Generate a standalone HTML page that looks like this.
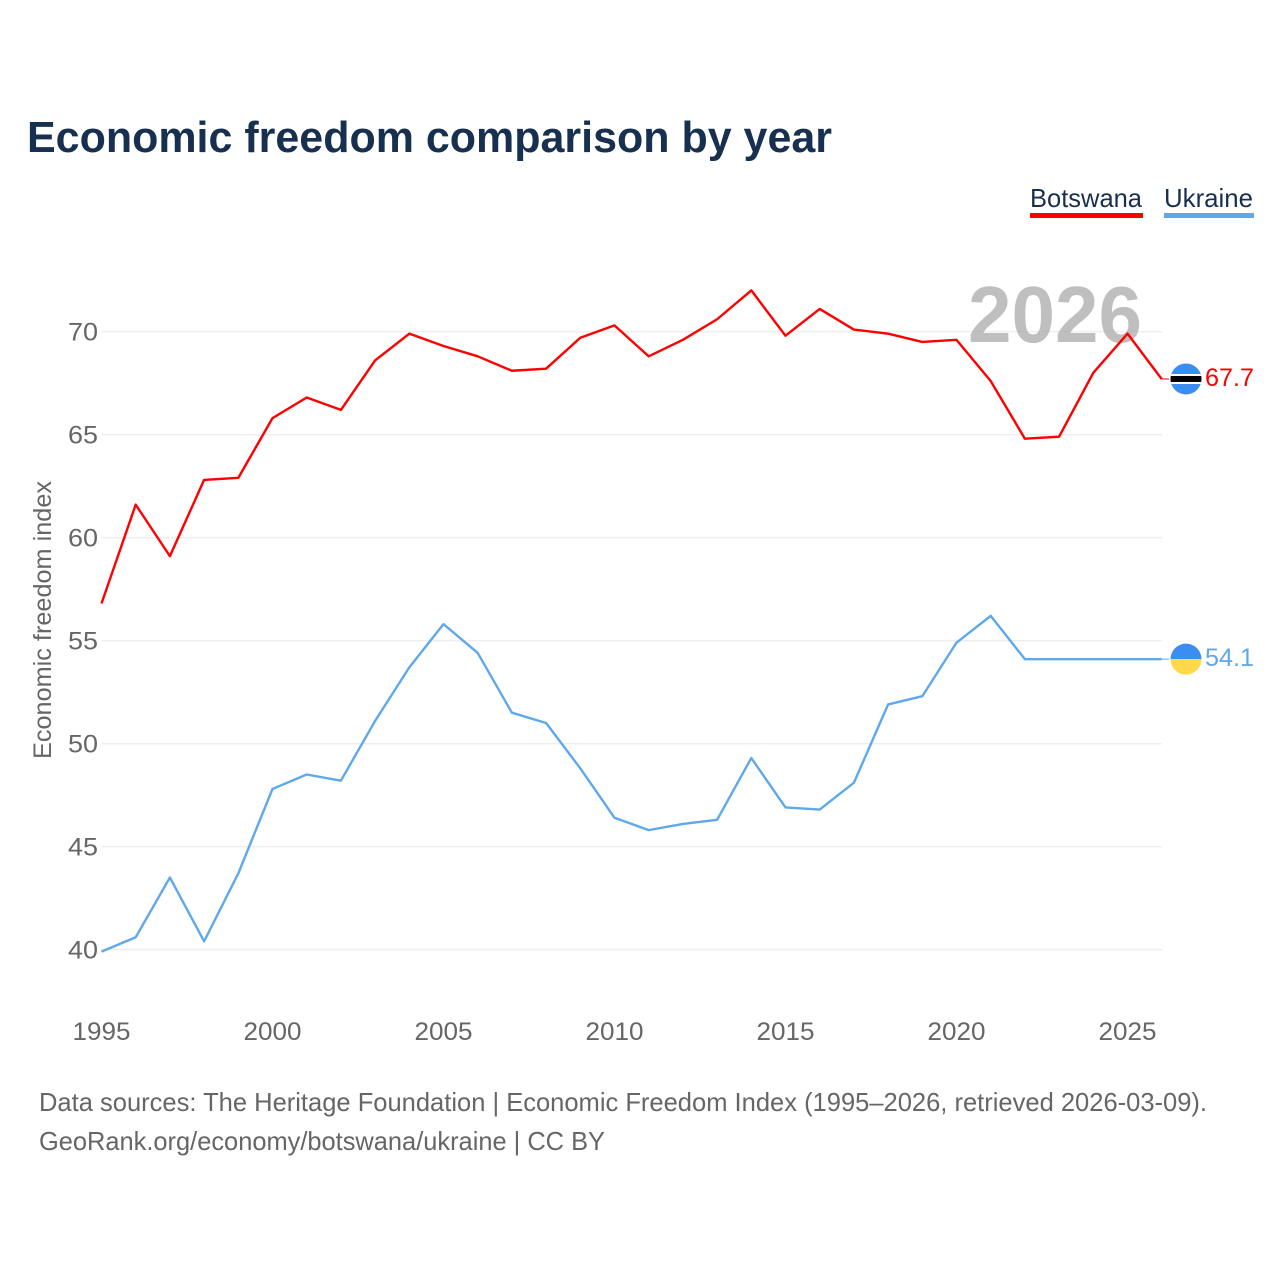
<!DOCTYPE html>
<html lang="en">
<head>
<meta charset="utf-8">
<title>Economic freedom comparison by year</title>
<style>
html,body{margin:0;padding:0;background:#fff;}
svg{display:block;}
text{font-family:"Liberation Sans",sans-serif;}
</style>
</head>
<body>
<svg id="chart" width="1280" height="1280" viewBox="0 0 1280 1280" xmlns="http://www.w3.org/2000/svg">
  <rect width="1280" height="1280" fill="#fff"/>
  <text x="27" y="152" font-size="44" font-weight="700" fill="#18304f" textLength="805" lengthAdjust="spacingAndGlyphs">Economic freedom comparison by year</text>
  <g>
    <text x="1030" y="207" font-size="26" fill="#18304f" textLength="112" lengthAdjust="spacingAndGlyphs">Botswana</text>
    <rect x="1030" y="213" width="113" height="5" fill="#ff0000"/>
  </g>
  <g>
    <text x="1164" y="207" font-size="26" fill="#18304f" textLength="89" lengthAdjust="spacingAndGlyphs">Ukraine</text>
    <rect x="1164" y="213" width="90" height="5" fill="#5fa8ec"/>
  </g>
  <g id="grid"></g>
  <g id="yticks"></g>
  <g id="xticks"></g>
  <text x="968" y="342" font-size="80" font-weight="700" fill="#a9a9a9" fill-opacity="0.75" textLength="174" lengthAdjust="spacingAndGlyphs">2026</text>
  <text transform="translate(51,759) rotate(-90)" font-size="25" fill="#666" textLength="278" lengthAdjust="spacingAndGlyphs">Economic freedom index</text>
  <g id="series"></g>
  <line id="connector-botswana" stroke="#ff0000" stroke-width="1"/>
  <line id="connector-ukraine" stroke="#5fa8ec" stroke-width="1"/>
  <defs>
    <clipPath id="clip-bw"><circle id="clip-bw-circle" cx="1186" r="15.5"/></clipPath>
    <clipPath id="clip-ua"><circle id="clip-ua-circle" cx="1186" r="15.5"/></clipPath>
  </defs>
  <g id="flag-botswana" clip-path="url(#clip-bw)"></g>
  <g id="flag-ukraine" clip-path="url(#clip-ua)"></g>
  <text id="end-botswana" x="1205" font-size="25" fill="#ff0000" textLength="49" lengthAdjust="spacingAndGlyphs"></text>
  <text id="end-ukraine" x="1205" font-size="25" fill="#5fa8ec" textLength="49" lengthAdjust="spacingAndGlyphs"></text>
  <text x="39" y="1111" font-size="26" fill="#666" textLength="1168" lengthAdjust="spacingAndGlyphs">Data sources: The Heritage Foundation | Economic Freedom Index (1995–2026, retrieved 2026-03-09).</text>
  <text x="39" y="1150" font-size="26" fill="#666" textLength="566" lengthAdjust="spacingAndGlyphs">GeoRank.org/economy/botswana/ukraine | CC BY</text>
</svg>
<script>
const years = [1995,1996,1997,1998,1999,2000,2001,2002,2003,2004,2005,2006,2007,2008,2009,2010,2011,2012,2013,2014,2015,2016,2017,2018,2019,2020,2021,2022,2023,2024,2025,2026];
const botswana = [56.8,61.6,59.1,62.8,62.9,65.8,66.8,66.2,68.6,69.9,69.3,68.8,68.1,68.2,69.7,70.3,68.8,69.6,70.6,72.0,69.8,71.1,70.1,69.9,69.5,69.6,67.6,64.8,64.9,68.0,69.9,67.7];
const ukraine = [39.9,40.6,43.5,40.4,43.7,47.8,48.5,48.2,51.1,53.7,55.8,54.4,51.5,51.0,48.8,46.4,45.8,46.1,46.3,49.3,46.9,46.8,48.1,51.9,52.3,54.9,56.2,54.1,54.1,54.1,54.1,54.1];
const yTicks = [40,45,50,55,60,65,70];
const xTicks = [1995,2000,2005,2010,2015,2020,2025];

const NS = 'http://www.w3.org/2000/svg';
function xScale(year){ return 101.5 + (year - 1995) * 34.2; }
function yScale(value){ return 949.6 - (value - 40) * 20.6; }
function make(tag, attrs, parent){
  const el = document.createElementNS(NS, tag);
  for (const k in attrs) el.setAttribute(k, attrs[k]);
  parent.appendChild(el);
  return el;
}

const grid = document.getElementById('grid');
const yG = document.getElementById('yticks');
const xG = document.getElementById('xticks');

yTicks.forEach(function(t){
  const line = make('line', {x1:101.5, x2:1162, y1:yScale(t), y2:yScale(t), stroke:'#eeeeee', 'stroke-width':1.5}, grid);
  
  
  const label = make('text', {x:98, y:yScale(t)+9, 'text-anchor':'end', 'font-size':25, fill:'#666', textLength:30, lengthAdjust:'spacingAndGlyphs'}, yG);
  label.textContent = t;
  
  
});

xTicks.forEach(function(t){
  const label = make('text', {x:xScale(t), y:1040, 'text-anchor':'middle', 'font-size':25, fill:'#666', textLength:58, lengthAdjust:'spacingAndGlyphs'}, xG);
  label.textContent = t;
  
  
});

function pathFor(values){
  return values.map(function(v,i){ return (i?'L':'M') + xScale(years[i]).toFixed(2) + ' ' + yScale(v).toFixed(2); }).join(' ');
}
const seriesG = document.getElementById('series');
const lineB = make('path', {d:pathFor(botswana), fill:'none', stroke:'#ff0000', 'stroke-width':2.4, 'stroke-linejoin':'round'}, seriesG);


const lineU = make('path', {d:pathFor(ukraine), fill:'none', stroke:'#5fa8ec', 'stroke-width':2.4, 'stroke-linejoin':'round'}, seriesG);



const lastB = botswana[botswana.length-1];
const lastU = ukraine[ukraine.length-1];
const lastX = xScale(years[years.length-1]);
const yB = yScale(lastB);
const yU = yScale(lastU);

function place(id, y){
  const c = document.getElementById(id);
  c.setAttribute('x1', lastX);
  c.setAttribute('x2', 1169);
  c.setAttribute('y1', y);
  c.setAttribute('y2', y);
}
place('connector-botswana', yB);
place('connector-ukraine', yU);

document.getElementById('clip-bw-circle').setAttribute('cy', yB);
document.getElementById('clip-ua-circle').setAttribute('cy', yU);

const fb = document.getElementById('flag-botswana');
const fbBlue = make('rect', {x:1170, y:yB-16, width:32, height:32, fill:'#3b8df2'}, fb);


const fbWhite = make('rect', {x:1170, y:yB-5, width:32, height:10, fill:'#fff'}, fb);


const fbBlack = make('rect', {x:1170, y:yB-3, width:32, height:6, fill:'#000'}, fb);



const fu = document.getElementById('flag-ukraine');
const fuBlue = make('rect', {x:1170, y:yU-16, width:32, height:16, fill:'#3b8df2'}, fu);


const fuYellow = make('rect', {x:1170, y:yU, width:32, height:16, fill:'#ffd94a'}, fu);



const eb = document.getElementById('end-botswana');
eb.textContent = lastB.toFixed(1);
eb.setAttribute('y', yB + 7);
const eu = document.getElementById('end-ukraine');
eu.textContent = lastU.toFixed(1);
eu.setAttribute('y', yU + 7);
</script>
</body>
</html>
